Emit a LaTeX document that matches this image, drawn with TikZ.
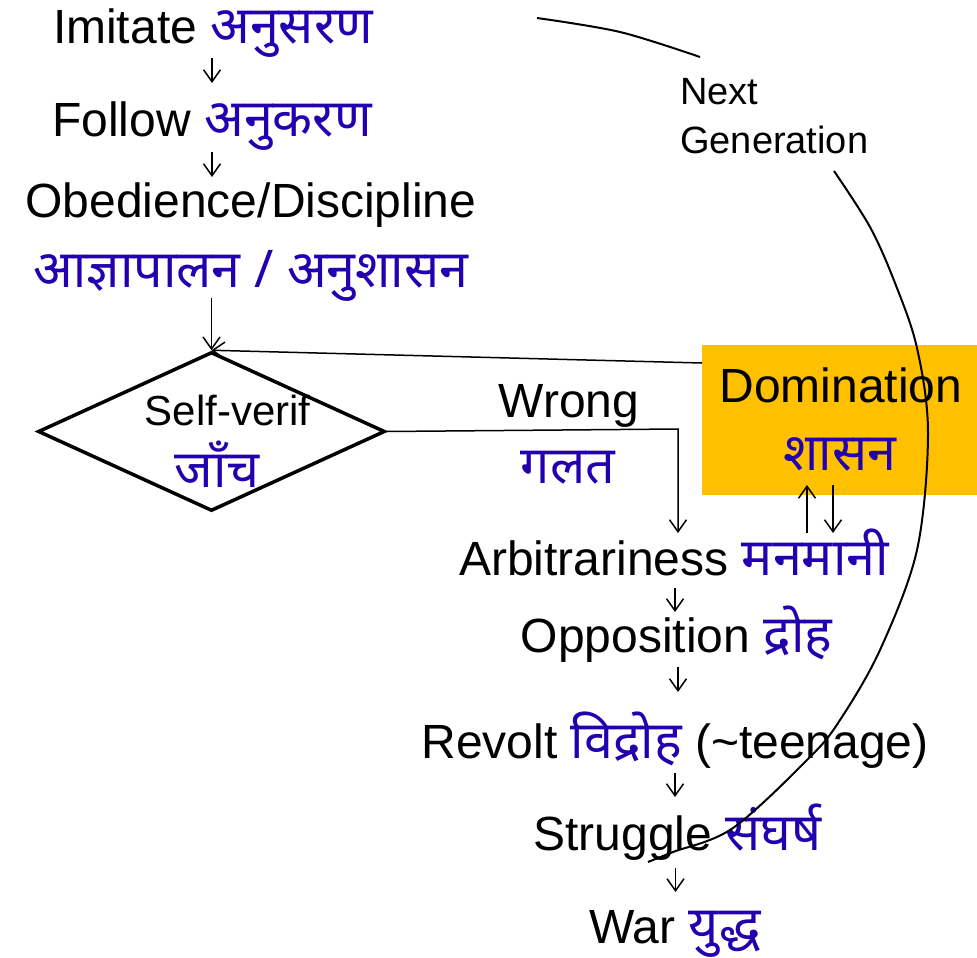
\documentclass[tikz,border=0pt]{standalone}
\usepackage{fontspec}
\setmainfont{Liberation Sans}
\newfontfamily\dev[Script=Devanagari]{Noto Sans}
\usetikzlibrary{shapes.geometric,arrows.meta,calc}
\definecolor{hblue}{HTML}{2200B0}
\definecolor{dorange}{HTML}{FFC000}
\newcommand{\hi}[1]{{\dev\fontsize{52}{60}\selectfont\color{hblue}#1}}
\begin{document}
\begin{tikzpicture}[x=1pt,y=-1pt,
  row/.style={inner sep=0pt, font=\fontsize{48}{58}\selectfont, anchor=base},
  arr/.style={-{Straight Barb[length=12pt,width=17pt]}, line width=1.5pt},
  curve/.style={line width=2pt}]
\useasboundingbox (0,0) rectangle (977,958);

% orange box
\node[fill=dorange, anchor=north west, minimum width=280pt, minimum height=150pt, inner sep=0pt] (dombox) at (702,345) {};

% left column
\node[row] (imit) at (213,44) {Imitate \hi{अनुसरण}};
\node[row] (foll) at (212,136) {Follow \hi{अनुकरण}};
\node[row] (obed) at (251,217) {Obedience/Discipline};
\node[row] (obedh) at (251,287) {\hi{आज्ञापालन / अनुशासन}};

\draw[arr] (imit.base) ++(-1,14) -- ++(0,25);
\draw[arr] (foll.base) ++(0,16) -- ++(0,25);

% diamond
\node[draw, diamond, line width=3.5pt, minimum width=347pt, minimum height=159pt, inner sep=0pt] (self) at (211.5,431.5) {};
\node[row, font=\fontsize{42}{50}\selectfont] (selfv) at (227.5,425) {Self-verif};
\node[row] (jaanch) at (217,487) {\hi{जाँच}};

\draw[arr] (obedh.base -| self.north) ++(0,11) -- (self.north);
\draw[arr] ([yshift=-18pt]dombox.north west) -- (self.north);

% wrong branch
\node[row] (wrong) at (569,417) {Wrong};
\node[row] (galat) at (568,483) {\hi{गलत}};
\coordinate (wc) at (678,429);

% domination
\node[row] (domt) at (841,402) {Domination};
\node[row] (shasan) at (840,470) {\hi{शासन}};

% right column
\node[row] (arb) at (674,575) {Arbitrariness \hi{मनमानी}};
\node[row] (opp) at (676.5,652) {Opposition \hi{द्रोह}};
\node[row] (rev) at (675,758) {Revolt \hi{विद्रोह} (\textasciitilde teenage)};
\node[row] (strug) at (677.5,850) {Struggle \hi{संघर्ष}};
\node[row] (war) at (675,943) {War \hi{युद्ध}};

\draw[arr] (self.east) -- (wc) -- ($(wc |- arb.base)+(0,-42)$);
\draw[arr] ($(arb.base)+(133,-42)$) -- ($(shasan.base)+(-33,15)$);
\draw[arr] ($(shasan.base)+(-7,15)$) -- ($(arb.base)+(159,-42)$);

\draw[arr] (arb.base) ++(1,13) -- ++(0,24);
\draw[arr] (opp.base) ++(1.5,15) -- ++(0,25);
\draw[arr] (rev.base) ++(0,15) -- ++(0,24);
\draw[arr] (strug.base) ++(-2,18) -- ++(0,24);

% next generation
\node[font=\fontsize{38}{49}\selectfont, align=left, anchor=base west, inner sep=0pt] (ng) at (680,153) {Next\\Generation};
\coordinate (cs) at (537,18);
\coordinate (ce) at (648,862);
\draw[curve] plot[smooth, tension=0.55] coordinates {(cs) (620,32) (700,57)};
\draw[curve] plot[smooth, tension=0.55] coordinates {(834,171) (870,227) (895,283) (917,348) (928,433) (917,550) (880,650) (840,720) (810,757) (733,828) (673,852) (ce)};
\end{tikzpicture}
\end{document}
